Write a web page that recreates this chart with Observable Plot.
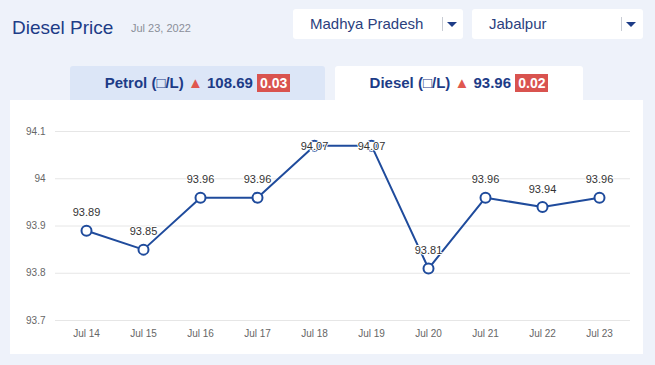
<!DOCTYPE html>
<html>
<head>
<meta charset="utf-8">
<script src="https://cdn.jsdelivr.net/npm/d3@7"></script>
<script src="https://cdn.jsdelivr.net/npm/@observablehq/plot@0.6"></script>
<style>
  html, body { margin: 0; padding: 0; }
  body { width: 655px; height: 365px; background: #eef2fa; font-family: "Liberation Sans", Arial, sans-serif; position: relative; overflow: hidden; }
  .title { position: absolute; left: 12px; top: 17px; font-size: 19px; color: #1d3c87; }
  .date { position: absolute; left: 131px; top: 22px; font-size: 11px; color: #8a8f99; }
  .dd { position: absolute; top: 9px; height: 30px; background: #fff; border-radius: 3px; }
  .dd .t { position: absolute; left: 17px; top: 6px; font-size: 15px; color: #2b3f7e; }
  .dd .sep { position: absolute; top: 8px; width: 1px; height: 14px; background: #c8ccd4; }
  .dd .car { position: absolute; top: 13px; width: 0; height: 0; border-left: 5px solid transparent; border-right: 5px solid transparent; border-top: 5px solid #1d3c87; }
  .tab { position: absolute; top: 66px; height: 35px; text-align: center; font-size: 15px; font-weight: bold; color: #1d3c87; line-height: 33px; border-radius: 3px 3px 0 0; }
  .tri { color: #e0584f; font-size: 15px; }
  .badge { background: #d9534f; color: #fff; padding: 1px 3px; font-size: 14px; }
  .panel { position: absolute; left: 10px; top: 100px; width: 633px; height: 254px; background: #fff; }
</style>
</head>
<body>
<div class="title">Diesel Price</div>
<div class="date">Jul 23, 2022</div>
<div class="dd" style="left:293px;width:170px;"><span class="t">Madhya Pradesh</span><span class="sep" style="left:149px"></span><span class="car" style="left:154px"></span></div>
<div class="dd" style="left:472px;width:171px;"><span class="t">Jabalpur</span><span class="sep" style="left:149px"></span><span class="car" style="left:154px"></span></div>
<div class="tab" style="left:70px;width:255px;background:#dce6f7;">Petrol (□/L) <span class="tri">▲</span> 108.69 <span class="badge">0.03</span></div>
<div class="panel" id="chart"></div>
<div class="tab" style="left:335px;width:248px;background:#fff;">Diesel (□/L) <span class="tri">▲</span> 93.96 <span class="badge">0.02</span></div>
<script>
const dates = ["Jul 14", "Jul 15", "Jul 16", "Jul 17", "Jul 18", "Jul 19", "Jul 20", "Jul 21", "Jul 22", "Jul 23"];
const prices = [93.89, 93.85, 93.96, 93.96, 94.07, 94.07, 93.81, 93.96, 93.94, 93.96];
const yTicks = [93.7, 93.8, 93.9, 94, 94.1];

const rows = dates.map((d, i) => ({date: d, price: prices[i]}));
const highRows = rows.filter(d => d.price > 94.05);
const otherRows = rows.filter(d => d.price <= 94.05);

const chart = Plot.plot({
  width: 633,
  height: 254,
  marginLeft: 45,
  marginRight: 13,
  marginTop: 31,
  marginBottom: 34,
  style: {background: "transparent", fontFamily: "'Liberation Sans', Arial, sans-serif"},
  x: {type: "point", domain: dates, padding: 0.5, label: null},
  y: {domain: [93.7, 94.1], label: null},
  marks: [
    Plot.ruleY(yTicks, {stroke: "#e6e6e6", strokeWidth: 1}),
    Plot.axisY({ticks: yTicks, tickSize: 0, tickPadding: 10, tickFormat: d => String(d), fontSize: 10, fill: "#666", label: null}),
    Plot.axisX({tickSize: 0, tickPadding: 9, fontSize: 10, fill: "#666", label: null}),
    Plot.line(rows, {x: "date", y: "price", stroke: "#1f4b9c", strokeWidth: 2}),
    Plot.dot(rows, {x: "date", y: "price", r: 5, fill: "#fff", stroke: "#1f4b9c", strokeWidth: 2}),
    Plot.text(otherRows, {x: "date", y: "price", text: d => d.price.toFixed(2), dy: -18, fontSize: 11, fill: "#333", stroke: "#fff", strokeWidth: 2}),
    Plot.text(highRows, {x: "date", y: "price", text: d => d.price.toFixed(2), dy: 1, fontSize: 11, fill: "#333", stroke: "#fff", strokeWidth: 2})
  ]
});
document.getElementById("chart").appendChild(chart);
</script>
</body>
</html>
